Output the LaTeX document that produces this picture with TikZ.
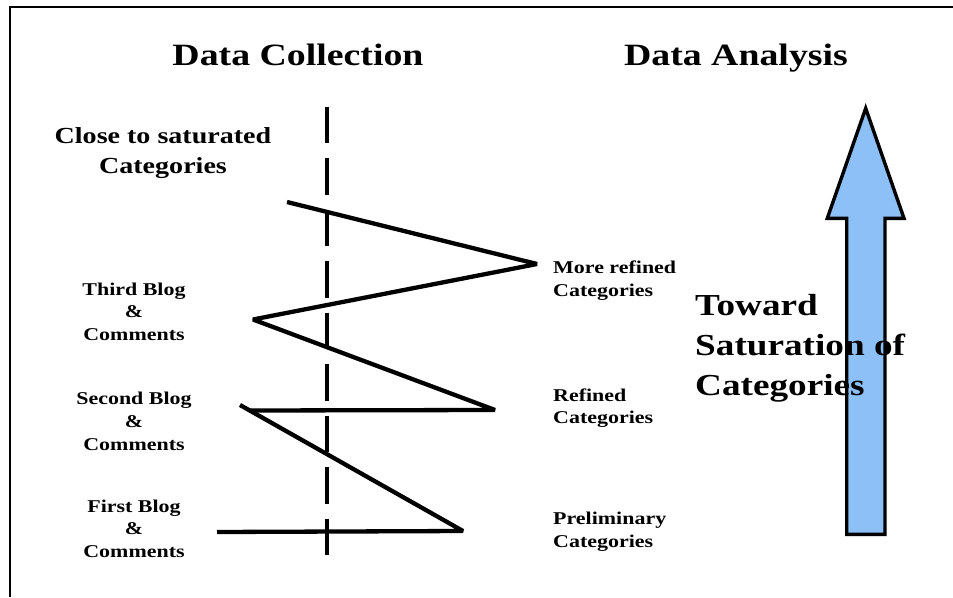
\documentclass[tikz,border=0pt]{standalone}
\usepackage{fontspec}
\setmainfont{Liberation Serif}[FakeStretch=1.22]
\definecolor{arrowblue}{RGB}{141,192,246}
\begin{document}
\begin{tikzpicture}[x=1pt,y=-1pt,
  lbl/.style={inner sep=0pt,font=\bfseries},
  zig/.style={line width=4.3pt,line join=bevel},
  guide/.style={line width=3.3pt,dash pattern=on 36.7pt off 14.8pt}]
\useasboundingbox (0,0) rectangle (953,597);
% frame
\coordinate (fr1) at (953,7);
\coordinate (fr2) at (10,7);
\coordinate (fr3) at (10,597);
\draw[line width=2.3pt] (fr1) -- (fr2) -- (fr3);
% titles
\node[lbl,anchor=base,font=\bfseries\fontsize{31}{36}\selectfont] (dc) at (298,65) {Data Collection};
\node[lbl,anchor=base,font=\bfseries\fontsize{31}{36}\selectfont] (da) at (736,65) {Data Analysis};
% dashed guide
\coordinate (g1) at (327,106.7);
\coordinate (g2) at (327,556);
\draw[guide] (g1) -- (g2);
% arrow
\coordinate (a1) at (846.7,534.3);
\coordinate (a2) at (846.7,218.3);
\coordinate (a3) at (827.3,218.3);
\coordinate (a4) at (865.7,108.3);
\coordinate (a5) at (904,218.3);
\coordinate (a6) at (885,218.3);
\coordinate (a7) at (885,534.3);
\draw[line width=3.4pt,fill=arrowblue,line join=miter] (a1) -- (a2) -- (a3) -- (a4) -- (a5) -- (a6) -- (a7) -- cycle;
% zigzag
\coordinate (z0) at (287,202);
\coordinate (z1) at (537,264);
\coordinate (z2) at (253,319.5);
\coordinate (z3) at (495,410);
\coordinate (z4) at (249,410.5);
\coordinate (z5) at (240,405);
\coordinate (z6) at (463,531);
\coordinate (z7) at (217,532);
\draw[zig] (z0) -- (z1) -- (z2) -- (z3) -- (z4);
\draw[zig] (z5) -- (z6) -- (z7);
% left labels
\node[lbl,anchor=base,font=\bfseries\fontsize{23}{30}\selectfont] (sat) at (163,143)
  {\begin{tabular}[t]{@{}c@{}}Close to saturated\\Categories\end{tabular}};
\node[lbl,anchor=base,font=\bfseries\fontsize{18}{22.8}\selectfont] (b3) at (134,295)
  {\begin{tabular}[t]{@{}c@{}}Third Blog\\\&\\Comments\end{tabular}};
\node[lbl,anchor=base,font=\bfseries\fontsize{18}{22.8}\selectfont] (b2) at (134,404.5)
  {\begin{tabular}[t]{@{}c@{}}Second Blog\\\&\\Comments\end{tabular}};
\node[lbl,anchor=base,font=\bfseries\fontsize{18}{22.5}\selectfont] (b1) at (134,512)
  {\begin{tabular}[t]{@{}c@{}}First Blog\\\&\\Comments\end{tabular}};
% middle labels
\node[lbl,anchor=base west,font=\bfseries\fontsize{18}{22.7}\selectfont] (c3) at (553,273.3)
  {\begin{tabular}[t]{@{}l@{}}More refined\\Categories\end{tabular}};
\node[lbl,anchor=base west,font=\bfseries\fontsize{18}{22.7}\selectfont] (c2) at (553,401)
  {\begin{tabular}[t]{@{}l@{}}Refined\\Categories\end{tabular}};
\node[lbl,anchor=base west,font=\bfseries\fontsize{18}{22.7}\selectfont] (c1) at (553,524.7)
  {\begin{tabular}[t]{@{}l@{}}Preliminary\\Categories\end{tabular}};
% toward text
\node[lbl,anchor=base west,font=\bfseries\fontsize{30.5}{40}\selectfont] (tw) at (695,315)
  {\begin{tabular}[t]{@{}l@{}}Toward\\Saturation of\\Categories\end{tabular}};
\end{tikzpicture}
\end{document}
